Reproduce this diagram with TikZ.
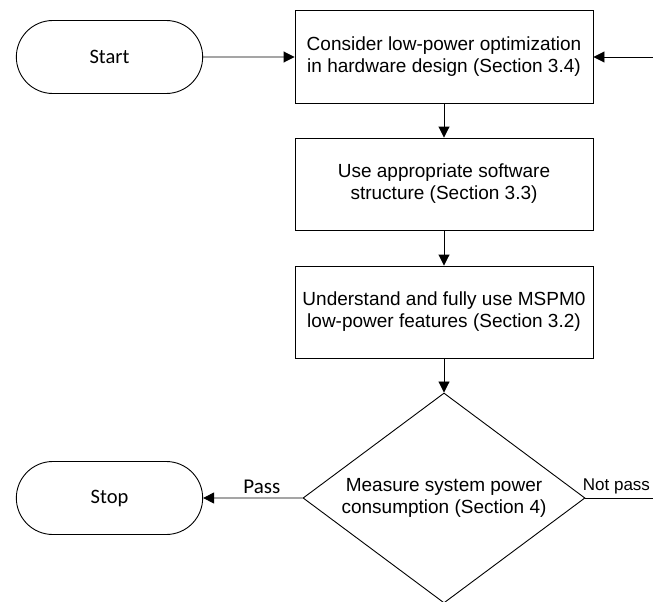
\documentclass[tikz,border=0pt]{standalone}
\usepackage{fontspec}
\setmainfont{Liberation Sans}
\newfontfamily\calib{Carlito}
\usetikzlibrary{shapes.misc,shapes.geometric,arrows.meta}

\begin{document}
\begin{tikzpicture}[x=1pt,y=-1pt,line width=0.9pt,
    term/.style={rounded rectangle,draw,minimum width=193pt,minimum height=73pt,font=\calib\fontsize{20.5}{24}\selectfont},
    proc/.style={rectangle,draw,minimum width=298pt,minimum height=92pt,align=center,font=\fontsize{19}{22}\selectfont},
    decide/.style={diamond,draw,minimum width=282pt,minimum height=210pt,aspect=1.343,inner sep=0pt,align=center,font=\fontsize{19}{22}\selectfont}]
        \clip (0,0) rectangle (653,602);
        \begin{scope}
          \node[term] (start) at (109.5,57) {Start};
          \node[proc,minimum height=93pt] (hw) at (444,57) {Consider low-power optimization\\in hardware design (Section 3.4)};
          \node[proc] (sw) at (444,184) {Use appropriate software\\structure (Section 3.3)};
          \node[proc] (feat) at (444,312) {Understand and fully use MSPM0\\low-power features (Section 3.2)};
          \node[decide] (meas) at (444,498) {Measure system power\\consumption (Section 4)};
          \node[term] (stop) at (109.5,498) {Stop};
          \coordinate (back) at (680,498);
        \end{scope}
        \begin{scope}[every edge/.style={draw=black,-{Triangle[length=11pt,width=11pt]}}]
          \path (start) edge (hw);
          \path (hw) edge (sw);
          \path (sw) edge (feat);
          \path (feat) edge (meas);
          \path (meas) edge node[pos=0.41,above=1pt,font=\calib\fontsize{21}{24}\selectfont] {Pass} (stop);
        \end{scope}
        \draw[-{Triangle[length=11pt,width=11pt]}] (meas.east) -- node[pos=0,anchor=base west,xshift=-3pt,yshift=8pt,inner sep=0pt,font=\fontsize{17}{20}\selectfont] {Not pass} (back) |- (hw.east);
\end{tikzpicture}
\end{document}
